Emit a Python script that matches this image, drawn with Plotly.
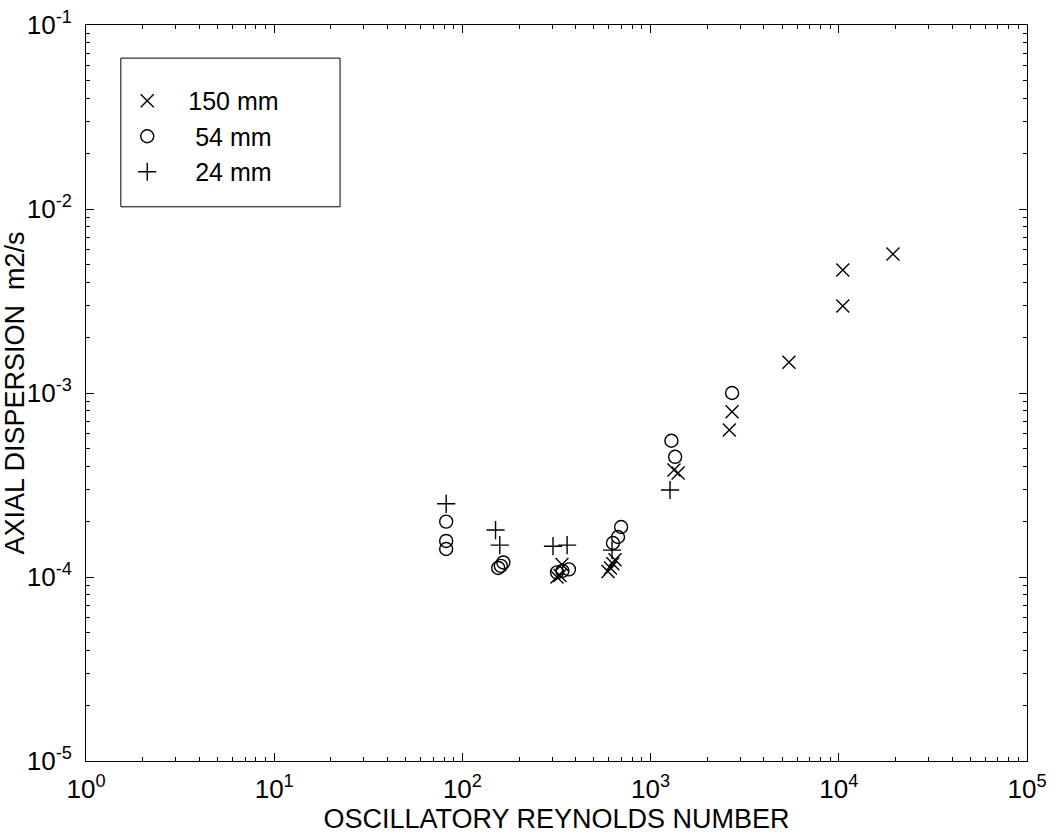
import plotly.graph_objects as go

# Oscillatory Reynolds number vs axial dispersion coefficient (m2/s)
re_150 = [318, 330, 338, 594, 612, 630, 647, 1331, 1400, 2620, 2710, 5435, 10500, 10500, 19400]
d_150 = [1.00e-4, 1.02e-4, 1.17e-4, 1.07e-4, 1.12e-4, 1.18e-4, 1.24e-4,
         3.82e-4, 3.67e-4, 6.3e-4, 7.9e-4, 1.47e-3, 4.66e-3, 2.97e-3, 5.69e-3]

re_54 = [82, 82, 82, 155, 160, 165, 318, 340, 368, 631, 671, 697, 1290, 1350, 2710]
d_54 = [2.0e-4, 1.57e-4, 1.42e-4, 1.12e-4, 1.15e-4, 1.2e-4, 1.06e-4, 1.08e-4, 1.1e-4,
        1.53e-4, 1.65e-4, 1.87e-4, 5.5e-4, 4.5e-4, 1.0e-3]

re_24 = [82, 150, 158, 303, 360, 624, 1268]
d_24 = [2.5e-4, 1.8e-4, 1.49e-4, 1.47e-4, 1.49e-4, 1.40e-4, 2.97e-4]

x_exponents = [0, 1, 2, 3, 4, 5]
y_exponents = [-5, -4, -3, -2, -1]

series = [
    ("150 mm", re_150, d_150, "x-thin-open"),
    ("\u00a054 mm", re_54, d_54, "circle-open"),
    ("\u00a024 mm", re_24, d_24, "cross-thin-open"),
]

FONT = "Liberation Sans, Arial, Helvetica, sans-serif"


def power_labels(exps):
    return [f"10<sup>{e}</sup>" for e in exps]


fig = go.Figure()
for i, (name, xs, ys, sym) in enumerate(series):
    fig.add_trace(go.Scatter(
        x=xs, y=ys, mode="markers", name=name, legendgroup=f"g{i}",
        marker=dict(symbol=sym, size=13, color="black",
                    line=dict(color="black", width=1.4)),
    ))

axis_common = dict(
    type="log", showgrid=False, zeroline=False, automargin=False,
    showline=True, linecolor="black", linewidth=1, mirror="ticks",
    ticks="inside", ticklen=8, tickcolor="black", tickwidth=1,
    minor=dict(ticks="inside", ticklen=4, tickcolor="black", dtick="D1", showgrid=False),
    tickfont=dict(family=FONT, size=26, color="black"),
)

fig.update_xaxes(**axis_common, range=[0, 5], ticklabelstandoff=5,
                 tickvals=[10.0 ** e for e in x_exponents],
                 ticktext=power_labels(x_exponents),
                 title=dict(text="OSCILLATORY REYNOLDS NUMBER",
                            font=dict(family=FONT, size=27, color="black"), standoff=4))
fig.update_yaxes(**axis_common, range=[-5, -1], ticklabelstandoff=8,
                 tickvals=[10.0 ** e for e in y_exponents],
                 ticktext=power_labels(y_exponents),
                 title=dict(text="AXIAL DISPERSION\u00a0\u00a0m2/s",
                            font=dict(family=FONT, size=27, color="black"), standoff=6))

# Legend frame
fig.add_shape(type="rect", xref="paper", yref="paper",
              x0=0.037, x1=0.270, y0=0.753, y1=0.955,
              line=dict(color="black", width=1), fillcolor="white", layer="below")

fig.update_layout(
    width=1058, height=836,
    margin=dict(l=86, r=31, t=25, b=75),
    paper_bgcolor="white", plot_bgcolor="white",
    font=dict(family=FONT, color="black"),
    showlegend=True,
    legend=dict(x=0.0215, y=0.928, xanchor="left", yanchor="top",
                bgcolor="rgba(0,0,0,0)", borderwidth=0,
                font=dict(family=FONT, size=25, color="black"),
                itemwidth=72, tracegroupgap=0),
)

fig.write_html("out.html")
